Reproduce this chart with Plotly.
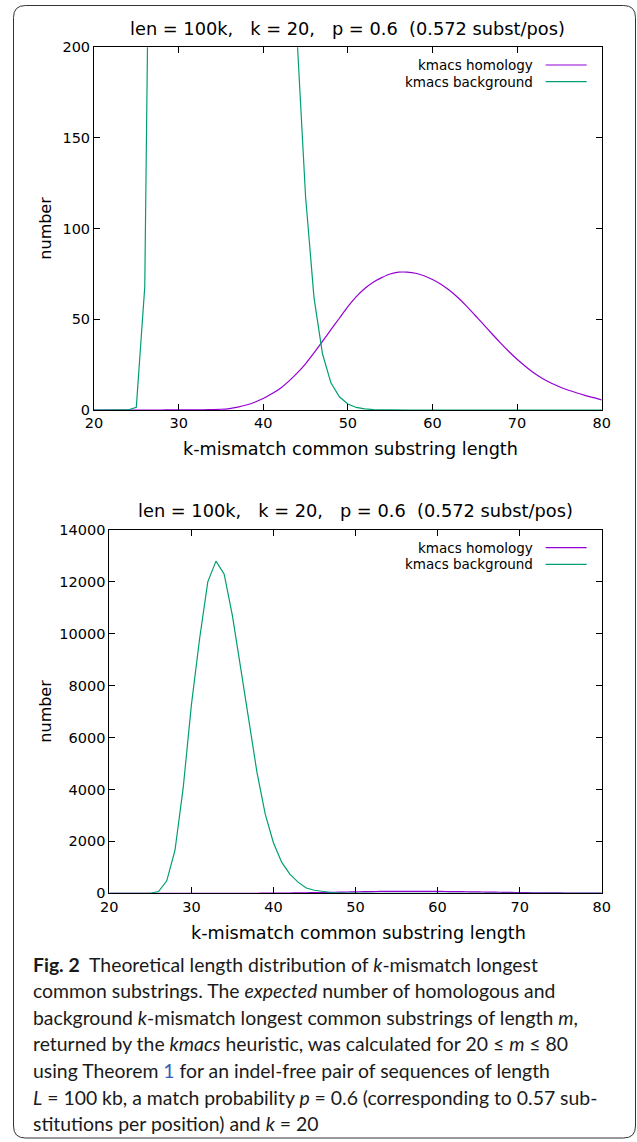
import plotly.graph_objects as go

W, H = 637, 1142

# ---------------- data ----------------
lengths = list(range(20, 81))
homology = [0, 0, 0, 0, 0, 0, 0, 0, 0.01, 0.02,
            0.04, 0.06, 0.1, 0.15, 0.25, 0.4, 0.8, 1.6, 2.75, 4.3,
            6.3, 8.9, 11.9, 15.8, 20.3, 25.5, 31.5, 37.8, 44.3, 50.6,
            57, 62.5, 67, 70.5, 73, 75, 76, 76, 75.4, 74,
            72, 69.4, 66, 62, 57.4, 52.4, 47.3, 42.2, 37.2, 32.4,
            28, 24, 20.4, 17.4, 14.9, 12.8, 11, 9.5, 8.1, 6.8,
            5.6]
background = [0, 0, 0, 0, 0.02, 1.5, 68, 480, 1650, 4050,
              7250, 9800, 12000, 12800, 12300, 10700, 8700, 6600, 4650, 3050,
              1950, 1200, 740, 430, 205, 118, 62, 31, 15, 7.3,
              3.3, 1.4, 0.6, 0.25, 0.1, 0.04, 0.015, 0.005, 0, 0,
              0, 0, 0, 0, 0, 0, 0, 0, 0, 0,
              0, 0, 0, 0, 0, 0, 0, 0, 0, 0,
              0]
series_names = ["kmacs homology", "kmacs background"]
series_colors = ["#9400d3", "#009e73"]
series_shapes = ["spline", "linear"]

x_ticks = [20, 30, 40, 50, 60, 70, 80]
top_y_ticks = [0, 50, 100, 150, 200]
bottom_y_ticks = [0, 2000, 4000, 6000, 8000, 10000, 12000, 14000]
top_y_range = [0, 200]
bottom_y_range = [0, 14000]

plot_title = "len = 100k,\u00a0\u00a0\u00a0k = 20,\u00a0\u00a0\u00a0p = 0.6\u00a0\u00a0(0.572 subst/pos)"
x_label = "k-mismatch common substring length"
y_label = "number"

caption_lines = [
    "<b>Fig. 2</b>\u00a0\u00a0Theoretical length distribution of <i>k</i>-mismatch longest",
    "common substrings. The <i>expected</i> number of homologous and",
    "background <i>k</i>-mismatch longest common substrings of length <i>m</i>,",
    "returned by the <i>kmacs</i> heuristic, was calculated for 20 \u2264 <i>m</i> \u2264 80",
    "using Theorem <span style='color:#2f5fb3'>1</span> for an indel-free pair of sequences of length",
    "<i>L</i> = 100 kb, a match probability <i>p</i> = 0.6 (corresponding to 0.57 sub-",
    "stitutions per position) and <i>k</i> = 20",
]

# ---------------- helpers ----------------
def PX(px):
    return px / W


def PY(py):
    return 1 - py / H


GP_FONT = "DejaVu Sans"
CAP_FONT = "Lato"

fig = go.Figure()

panels = [
    dict(xa="x", ya="y", left=94.0, right=601.7, top=47.3, bottom=410.0,
         yr=top_y_range, yt=top_y_ticks, title_y=29, xlab_y=449),
    dict(xa="x2", ya="y2", left=109.3, right=601.7, top=530.0, bottom=893.3,
         yr=bottom_y_range, yt=bottom_y_ticks, title_y=511, xlab_y=933),
]

annotations = []
shapes = []

for i, p in enumerate(panels):
    for name, vals, col, shp in zip(series_names, [homology, background],
                                    series_colors, series_shapes):
        fig.add_trace(go.Scatter(x=lengths, y=vals, mode="lines", name=name,
                                 line=dict(color=col, width=1.2, shape=shp,
                                           smoothing=0.8 if shp == "spline" else None),
                                 xaxis=p["xa"], yaxis=p["ya"], showlegend=False,
                                 hoverinfo="skip"))
    sfx = "" if i == 0 else "2"
    axis_common = dict(showline=True, linecolor="black", linewidth=1, mirror="ticks",
                       ticks="inside", ticklen=6, tickwidth=1, tickcolor="black",
                       showgrid=False, zeroline=False, automargin=False,
                       tickformat="d",
                       tickfont=dict(family=GP_FONT, size=14.5, color="black"))
    fig.update_layout(**{
        "xaxis" + sfx: dict(domain=[PX(p["left"]), PX(p["right"])], range=[20, 80],
                            tickvals=x_ticks, anchor="y" + sfx, **axis_common),
        "yaxis" + sfx: dict(domain=[PY(p["bottom"]), PY(p["top"])], range=p["yr"],
                            tickvals=p["yt"], anchor="x" + sfx, **axis_common),
    })
    cx = (p["left"] + p["right"]) / 2
    annotations.append(dict(text=plot_title, x=PX(cx), y=PY(p["title_y"]),
                            xanchor="center", yanchor="middle",
                            font=dict(family=GP_FONT, size=17.8, color="black")))
    annotations.append(dict(text=x_label, x=PX(cx + 3), y=PY(p["xlab_y"]),
                            xanchor="center", yanchor="middle",
                            font=dict(family=GP_FONT, size=17.6, color="black")))
    annotations.append(dict(text=y_label, x=PX(46), y=PY((p["top"] + p["bottom"]) / 2),
                            xanchor="center", yanchor="middle", textangle=-90,
                            font=dict(family=GP_FONT, size=16, color="black")))
    # legend (key box at top right, gnuplot style: text then sample)
    for j, (name, col) in enumerate(zip(series_names, series_colors)):
        ky = p["top"] + 17.7 + j * 16.7
        annotations.append(dict(text=name, x=PX(535), y=PY(ky), xanchor="right",
                                yanchor="middle",
                                font=dict(family=GP_FONT, size=13.5, color="black")))
        shapes.append(dict(type="line", xref="paper", yref="paper",
                           x0=PX(545.7), x1=PX(586.7), y0=PY(ky), y1=PY(ky),
                           line=dict(color=col, width=1.2)))

# caption
cap_y0 = 964.0
cap_dy = 26.6
for k, line in enumerate(caption_lines):
    annotations.append(dict(text=line, x=PX(30.5), y=PY(cap_y0 + k * cap_dy),
                            xanchor="left", yanchor="middle",
                            font=dict(family=CAP_FONT, size=19.4, color="#1a1a1a")))

# rounded outer frame
L, R, T, B, r = 13.5, 635.5, 5.5, 1138.0, 12.0
path = (f"M {PX(L + r)},{PY(T)} L {PX(R - r)},{PY(T)} Q {PX(R)},{PY(T)} {PX(R)},{PY(T + r)} "
        f"L {PX(R)},{PY(B - r)} Q {PX(R)},{PY(B)} {PX(R - r)},{PY(B)} "
        f"L {PX(L + r)},{PY(B)} Q {PX(L)},{PY(B)} {PX(L)},{PY(B - r)} "
        f"L {PX(L)},{PY(T + r)} Q {PX(L)},{PY(T)} {PX(L + r)},{PY(T)} Z")
shapes.append(dict(type="path", xref="paper", yref="paper", path=path,
                   line=dict(color="#333333", width=1)))

for a in annotations:
    a.update(xref="paper", yref="paper", showarrow=False)

fig.update_layout(template="none", width=W, height=H,
                  margin=dict(l=0, r=0, t=0, b=0, pad=0, autoexpand=False),
                  paper_bgcolor="white", plot_bgcolor="white",
                  showlegend=False, annotations=annotations, shapes=shapes)

fig.write_html("out.html", config={"displayModeBar": False},
               post_script="document.body.style.margin='0';document.body.style.overflow='hidden';")
